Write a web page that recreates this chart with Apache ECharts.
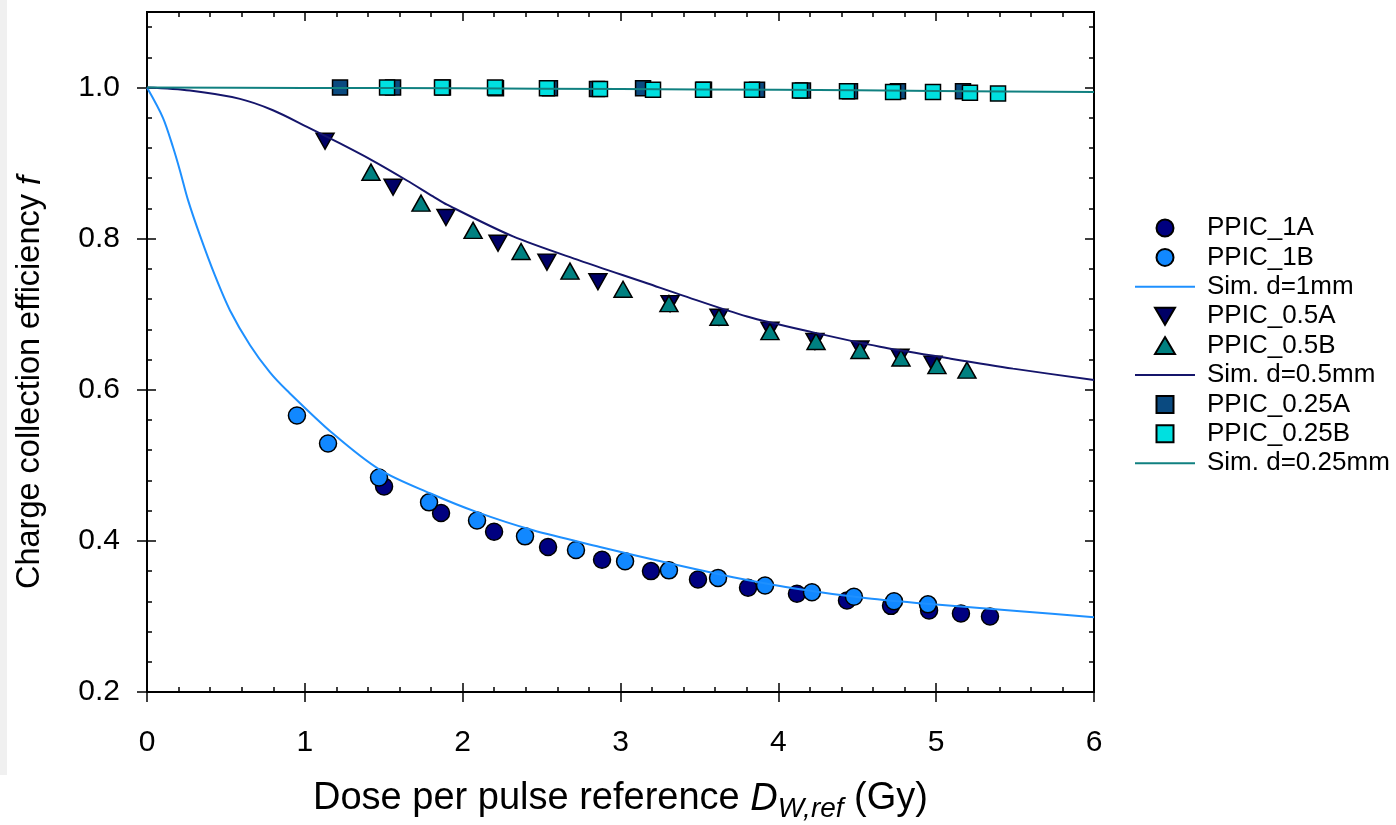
<!DOCTYPE html>
<html>
<head>
<meta charset="utf-8">
<script src="https://cdn.jsdelivr.net/npm/echarts@6/dist/echarts.min.js"></script>
<style>
html, body { margin: 0; padding: 0; background: #fff; }
#chart { width: 1396px; height: 825px; }
#edge { position: absolute; left: 0; top: 0; width: 7px; height: 775px; background: #f0f0f0; }
</style>
</head>
<body>
<div id="chart"></div>
<div id="edge"></div>
<script>
// measured points (dose Gy, efficiency f)
var ppic1A_x = [1.502, 1.863, 2.199, 2.541, 2.883, 3.193, 3.491, 3.808, 4.118, 4.435, 4.714, 4.955, 5.157, 5.341];
var ppic1A_y = [0.472, 0.437, 0.412, 0.392, 0.375, 0.360, 0.349, 0.338, 0.330, 0.321, 0.314, 0.308, 0.304, 0.300];
var ppic1B_x = [0.950, 1.147, 1.470, 1.787, 2.091, 2.395, 2.718, 3.029, 3.307, 3.618, 3.916, 4.213, 4.479, 4.733, 4.948];
var ppic1B_y = [0.566, 0.529, 0.484, 0.451, 0.427, 0.406, 0.388, 0.373, 0.361, 0.351, 0.341, 0.332, 0.326, 0.320, 0.316];

var ppic05A_x = [1.128, 1.559, 1.894, 2.224, 2.534, 2.857, 3.314, 3.624, 3.947, 4.232, 4.517, 4.771, 4.980];
var ppic05A_y = [0.929, 0.868, 0.828, 0.794, 0.769, 0.743, 0.714, 0.696, 0.679, 0.664, 0.654, 0.643, 0.634];
var ppic05B_x = [1.419, 1.736, 2.066, 2.370, 2.680, 3.016, 3.307, 3.624, 3.947, 4.239, 4.517, 4.777, 5.005, 5.195];
var ppic05B_y = [0.888, 0.847, 0.811, 0.783, 0.757, 0.733, 0.714, 0.696, 0.677, 0.664, 0.652, 0.642, 0.632, 0.626];

var ppic025A_x = [1.223, 1.559, 1.875, 2.211, 2.553, 2.851, 3.143, 3.529, 3.865, 4.156, 4.454, 4.758, 5.170];
var ppic025A_y = [1.000, 1.000, 1.000, 0.999, 0.999, 0.998, 0.999, 0.997, 0.997, 0.996, 0.995, 0.995, 0.995];
var ppic025B_x = [1.521, 1.869, 2.205, 2.534, 2.870, 3.206, 3.523, 3.833, 4.137, 4.435, 4.727, 4.980, 5.214, 5.392];
var ppic025B_y = [1.000, 1.000, 1.000, 0.999, 0.998, 0.997, 0.997, 0.997, 0.996, 0.995, 0.994, 0.994, 0.993, 0.992];

// simulation curves
var sim1_x = [0, 0.101, 0.165, 0.209, 0.260, 0.336, 0.431, 0.526, 0.653, 0.779, 0.887, 1.178, 1.476, 1.793, 2.091, 2.446, 2.870, 3.295, 3.713, 4.137, 4.562, 4.980, 5.531, 6.0];
var sim1_y = [1.0, 0.960, 0.921, 0.890, 0.851, 0.804, 0.751, 0.705, 0.659, 0.623, 0.599, 0.542, 0.494, 0.463, 0.438, 0.414, 0.392, 0.371, 0.352, 0.336, 0.324, 0.316, 0.307, 0.299];
var sim05_x = [0, 0.272, 0.589, 0.798, 1.014, 1.223, 1.432, 1.647, 1.812, 1.901, 2.319, 2.743, 3.168, 3.377, 3.802, 4.220, 4.644, 5.069, 5.487, 6.0];
var sim05_y = [1.0, 0.996, 0.985, 0.970, 0.948, 0.926, 0.903, 0.877, 0.856, 0.845, 0.803, 0.771, 0.741, 0.726, 0.697, 0.676, 0.657, 0.642, 0.628, 0.613];
var sim025_x = [0, 1, 2, 3, 4, 5, 6];
var sim025_y = [1.0, 0.9995, 0.999, 0.998, 0.997, 0.9955, 0.994];

var names = ['PPIC_1A', 'PPIC_1B', 'Sim. d=1mm', 'PPIC_0.5A', 'PPIC_0.5B', 'Sim. d=0.5mm', 'PPIC_0.25A', 'PPIC_0.25B', 'Sim. d=0.25mm'];

function zip(xs, ys) {
    return xs.map(function (x, i) { return [x, ys[i]]; });
}

var FONT = '"Liberation Sans", Arial, sans-serif';
var downTri = 'path://M0,0L20,0L10,17Z';
var upTri = 'path://M10,0L20,17L0,17Z';
var square = 'path://M0,0L14,0L14,14L0,14Z';
var lineIcon = 'path://M0,0L60,0L60,2L0,2Z';

function scatter(name, xs, ys, symbol, size, color, z) {
    return {
        name: name,
        type: 'scatter',
        data: zip(xs, ys),
        symbol: symbol,
        symbolSize: size,
        itemStyle: { color: color, borderColor: '#000', borderWidth: 1.5, opacity: 1 },
        z: z
    };
}
function simLine(name, xs, ys, color) {
    return {
        name: name,
        type: 'line',
        data: zip(xs, ys),
        symbol: 'none',
        showSymbol: false,
        smooth: 0.3,
        lineStyle: { color: color, width: 2 },
        itemStyle: { color: color },
        z: 10
    };
}

// axis helpers: major ticks cross the frame, minor ticks point inside
function xAx(pos, opts) {
    return Object.assign({
        type: 'value', min: 0, max: 6, interval: 1, position: pos,
        splitLine: { show: false },
        axisLine: { show: true, onZero: false, lineStyle: { color: '#000', width: 2 } },
        axisLabel: { show: false },
        axisTick: { show: true, inside: true, length: 9, lineStyle: { color: '#000', width: 1.5 } }
    }, opts || {});
}
function yAx(pos, opts) {
    return Object.assign({
        type: 'value', min: 0.2, max: 1.1, interval: 0.2, position: pos,
        splitLine: { show: false },
        axisLine: { show: true, onZero: false, lineStyle: { color: '#000', width: 2 } },
        axisLabel: { show: false },
        axisTick: { show: true, inside: true, length: 9, lineStyle: { color: '#000', width: 1.5 } }
    }, opts || {});
}

var myChart = echarts.init(document.getElementById('chart'));
var option = {
    backgroundColor: '#fff',
    animation: false,
    grid: { left: 147, right: 302, top: 12, bottom: 133, outerBoundsMode: 'none', containLabel: false },
    legend: {
        orient: 'vertical',
        left: 1130,
        top: 210,
        itemWidth: 60,
        itemHeight: 17,
        itemGap: 3.4,
        textStyle: { fontFamily: FONT, fontSize: 26, color: '#000', padding: [0, 0, 0, 7] },
        data: [
            { name: names[0], icon: 'circle' },
            { name: names[1], icon: 'circle' },
            { name: names[2], icon: lineIcon },
            { name: names[3], icon: downTri },
            { name: names[4], icon: upTri },
            { name: names[5], icon: lineIcon },
            { name: names[6], icon: square },
            { name: names[7], icon: square },
            { name: names[8], icon: lineIcon }
        ]
    },
    xAxis: [
        xAx('bottom', {
            axisTick: { show: true, inside: false, length: 10, lineStyle: { color: '#000', width: 1.5 } },
            axisLabel: { show: true, margin: 36, fontFamily: FONT, fontSize: 30, color: '#000' },
            name: 'Dose per pulse reference {it|D}{sub|W,ref} {n|(Gy)}',
            nameLocation: 'middle',
            nameGap: 85,
            nameTextStyle: {
                fontFamily: FONT, fontSize: 38, color: '#000',
                rich: {
                    it: { fontFamily: FONT, fontSize: 38, fontStyle: 'italic', color: '#000', lineHeight: 44 },
                    sub: { fontFamily: FONT, fontSize: 28, fontStyle: 'italic', color: '#000', lineHeight: 27, padding: [20, 0, 0, 0] },
                    n: { fontFamily: FONT, fontSize: 38, color: '#000', lineHeight: 44 }
                }
            }
        }),
        xAx('bottom'),
        xAx('bottom', { interval: 0.2, axisTick: { show: true, inside: true, length: 5, lineStyle: { color: '#000', width: 1.5 } } }),
        xAx('top'),
        xAx('top', { interval: 0.2, axisTick: { show: true, inside: true, length: 5, lineStyle: { color: '#000', width: 1.5 } } })
    ],
    yAxis: [
        yAx('left', {
            axisTick: { show: true, inside: false, length: 10, lineStyle: { color: '#000', width: 1.5 } },
            axisLabel: {
                show: true, margin: 27, fontFamily: FONT, fontSize: 30, color: '#000', showMaxLabel: false,
                formatter: function (v) { return v > 1.05 ? '' : v.toFixed(1); }
            },
            name: 'Charge collection efficiency {it|f}',
            nameLocation: 'middle',
            nameGap: 100,
            nameRotate: 90,
            nameTextStyle: {
                fontFamily: FONT, fontSize: 32.5, color: '#000', padding: [0, 61, 0, 0],
                rich: { it: { fontFamily: FONT, fontSize: 32.5, fontStyle: 'italic', color: '#000' } }
            }
        }),
        yAx('left'),
        yAx('left', { interval: 0.04, axisTick: { show: true, inside: true, length: 5, lineStyle: { color: '#000', width: 1.5 } } }),
        yAx('right'),
        yAx('right', { interval: 0.04, axisTick: { show: true, inside: true, length: 5, lineStyle: { color: '#000', width: 1.5 } } })
    ],
    series: [
        scatter(names[0], ppic1A_x, ppic1A_y, 'circle', 17, '#000080', 3),
        scatter(names[1], ppic1B_x, ppic1B_y, 'circle', 17, '#1188ff', 4),
        simLine(names[2], sim1_x, sim1_y, '#1e90ff'),
        scatter(names[3], ppic05A_x, ppic05A_y, downTri, [18, 16], '#000066', 3),
        scatter(names[4], ppic05B_x, ppic05B_y, 'triangle', [18, 16], '#008080', 4),
        simLine(names[5], sim05_x, sim05_y, '#15156b'),
        scatter(names[6], ppic025A_x, ppic025A_y, 'rect', 15, '#0a4a80', 3),
        scatter(names[7], ppic025B_x, ppic025B_y, 'rect', 15, '#00e0e0', 4),
        simLine(names[8], sim025_x, sim025_y, '#108080')
    ]
};
myChart.setOption(option);
</script>
</body>
</html>
